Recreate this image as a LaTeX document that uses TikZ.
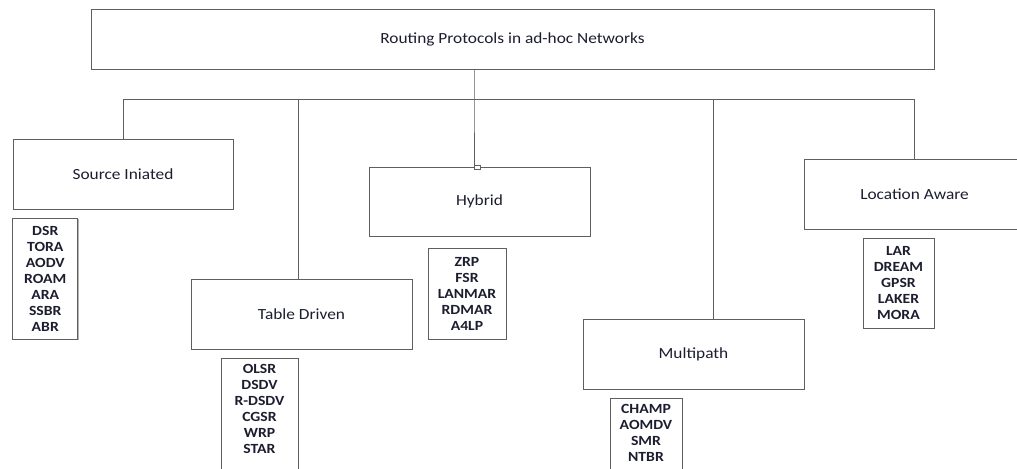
\documentclass[tikz,border=0pt]{standalone}
\usepackage{fontspec}
\setmainfont{Carlito}[FakeStretch=1.12]
\usetikzlibrary{shadows}
\definecolor{ln}{RGB}{95,95,95}
\definecolor{tx}{RGB}{28,30,48}
\begin{document}
\begin{tikzpicture}[x=0.75pt,y=-0.75pt,
  conn/.style={draw=ln, line width=0.75pt},
  catbox/.style n args={2}{draw=ln, line width=0.75pt, fill=white,
    minimum width=#1*0.75pt, minimum height=#2*0.75pt, inner sep=0pt,
    text=tx, font=\fontsize{11.6}{13}\selectfont,
    general shadow={fill=black!30, shadow xshift=0.8pt, shadow yshift=-0.8pt}},
  listbox/.style n args={2}{draw=ln, line width=0.75pt, fill=white,
    minimum width=#1*0.75pt, minimum height=#2*0.75pt, inner sep=0pt,
    text=tx, align=center, font=\bfseries\fontsize{10.5}{12}\selectfont,
    general shadow={fill=black!30, shadow xshift=0.8pt, shadow yshift=-0.8pt}}]
\useasboundingbox (0,0) rectangle (1017,468);

% top
\node[catbox={843}{59.5}] (top) at (512.5,39.25) {Routing Protocols in ad-hoc Networks};

% categories
\node[catbox={220}{70}] (src) at (123,174) {Source Iniated};
\node[catbox={221}{70}] (tbl) at (301.5,314) {Table Driven};
\node[catbox={221}{69}] (hyb) at (479.5,201.5) {Hybrid};
\node[catbox={221}{70}] (mlt) at (693.5,354) {Multipath};
\node[catbox={221}{70}] (loc) at (914.5,194) {Location Aware};

% lists
\node[listbox={65}{121}] (srcl) at (45.3,278.5) {DSR\\TORA\\AODV\\ROAM\\ARA\\SSBR\\ABR};
\node[listbox={77}{118}] (tbll) at (259.5,417) {OLSR\\DSDV\\R-DSDV\\CGSR\\WRP\\STAR\\\mbox{}};
\node[listbox={78}{91}] (hybl) at (467,293.5) {ZRP\\FSR\\LANMAR\\RDMAR\\A4LP};
\node[listbox={72}{86}] (mltl) at (646,441) {CHAMP\\AOMDV\\SMR\\NTBR\\\mbox{}};
\node[listbox={71}{90}] (locl) at (898.5,283) {LAR\\DREAM\\GPSR\\LAKER\\MORA};

% connectors
\coordinate (j) at (474,99);
\coordinate (tj) at (298,99);
\coordinate (mj) at (713,99);
\draw[conn] (top.south -| j) -- (j) -- (j |- hyb.north);
\draw[conn] (src.north |- j) -- (loc.north |- j);
\draw[conn] (src.north |- j) -- (src.north);
\draw[conn] (loc.north |- j) -- (loc.north);
\draw[conn] (tj) -- (tj |- tbl.north);
\draw[conn] (mj) -- (mj |- mlt.north);
\draw[conn, fill=white] (474,165.3) rectangle (480,169);
\end{tikzpicture}
\end{document}
